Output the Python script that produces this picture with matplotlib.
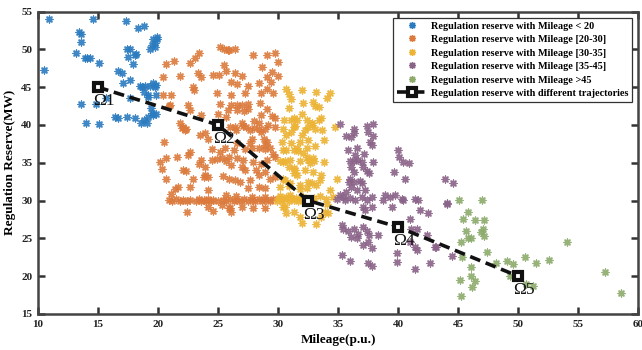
import numpy as np
import matplotlib
matplotlib.use('Agg')
import matplotlib.pyplot as plt
from matplotlib.lines import Line2D

# points, (mileage, reserve)
blue = [(10.9,54.0),(14.6,54.0),(17.3,53.8),(18.3,52.8),(18.8,53.1),(13.4,52.3),(13.6,52.0),(13.6,51.0),
        (19.9,51.4),(19.75,50.8),(19.6,51.4),(19.9,51.65),(19.5,50.6),(19.75,50.3),(17.4,50.1),(17.7,50.1),
        (19.3,50.0),(13.2,49.5),(18.2,49.4),(18.1,49.2),(17.5,49.0),(13.9,48.9),(14.1,48.8),(14.3,48.9),
        (15.1,48.2),(17.9,48.1),(10.5,47.3),(16.7,47.2),(17.0,46.9),(17.1,45.6),(17.7,45.9),(18.5,45.2),
        (18.9,45.2),(19.3,45.1),(19.8,45.3),(18.7,45.0),(19.6,45.5),(19.75,45.0),(18.8,44.4),(19.2,43.7),
        (15.7,43.6),(19.2,43.9),(19.8,43.9),(17.7,43.5),(13.6,42.8),(14.8,42.8),(19.4,42.2),(19.5,41.6),
        (19.6,41.3),(19.8,41.5),(19.2,41.1),(18.8,40.6),(16.4,41.0),(16.7,40.9),(17.4,41.1),(18.1,40.9),
        (14.0,40.2),(15.1,40.1),(18.6,40.3),(19.1,40.3)]

orange = [(25.2,50.25),(25.5,50.1),(25.8,49.9),(23.4,49.5),(23.1,48.8),(22.7,48.2),(21.3,48.4),(20.7,48.0),
          (25.5,47.9),(25.7,47.2),(23.3,46.9),(23.6,46.3),(24.6,46.6),(25.1,46.6),(21.8,46.5),(20.4,46.4),
          (22.9,45.0),(23.0,44.6),(24.9,44.2),(20.4,43.9),(21.1,43.9),(25.2,42.75),(21.0,42.6),(22.5,42.6),
          (22.7,42.0),(23.6,41.3),(25.0,41.5),(25.8,42.0),(21.8,40.2),(22.1,39.7),(22.3,39.5),(20.9,42.5),
          (25.9,49.9),(26.4,50.1),(27.9,49.2),(29.1,49.2),(29.75,49.5),(30.0,48.3),(28.7,47.7),(29.5,47.0),
          (30.0,46.5),(26.4,46.9),(27.0,46.5),(29.1,46.3),(29.4,45.7),(26.1,45.7),(26.6,45.4),(27.5,45.1),
          (28.4,45.6),(29.1,44.8),(27.25,44.25),(28.6,44.25),(29.6,44.25),(26.1,43.9),(28.5,42.9),(26.1,42.7),
          (26.6,42.6),(27.0,42.7),(27.5,42.8),(26.6,42.0),(27.2,41.9),(27.5,42.1),(29.1,42.05),(28.6,41.3),
          (29.5,41.2),(29.75,40.9),(25.7,41.1),(28.0,40.5),(27.0,40.2),(27.1,39.8),(26.4,39.75),(28.4,40.2),
          (29.2,40.0),(29.75,39.7),(28.4,39.5),(28.9,39.4),
          (20.5,37.7),(22.0,39.6),(22.25,39.3),(23.5,38.7),(23.9,38.9),(24.2,38.2),(24.5,36.8),(25.2,36.4),
          (25.6,36.9),(22.7,36.4),(22.5,36.0),(20.2,35.1),(20.7,35.6),(21.6,35.8),(23.6,35.3),(23.4,34.9),
          (23.9,34.5),(24.5,35.3),(24.9,35.5),(25.3,35.6),(25.7,35.2),(20.3,34.2),(22.1,34.0),(22.3,33.9),
          (23.9,33.4),(24.2,33.1),(23.8,33.1),(25.4,33.3),(20.7,32.9),(22.9,32.8),(21.7,31.8),(21.4,31.5),
          (22.7,31.8),(24.2,31.4),(21.1,30.9),(25.7,30.7),(24.2,29.2),(24.6,28.6),(22.4,28.5),(25.3,29.4),
          (25.9,29.0),
          (26.0,39.7),(26.5,39.3),(27.3,39.7),(27.7,39.3),(28.0,39.6),(28.6,39.1),(28.8,38.2),(29.1,37.8),
          (28.9,37.3),(27.8,38.2),(27.7,37.55),(26.6,37.55),(26.3,36.7),(27.25,36.8),(27.8,36.9),(28.4,37.0),
          (28.9,36.8),(29.3,37.0),(29.6,36.2),(29.75,35.8),(25.9,35.8),(26.6,35.6),(27.1,35.3),(27.9,35.1),
          (28.6,34.9),(29.1,35.3),(26.1,34.7),(27.0,34.5),(27.25,34.0),(28.2,34.0),(28.9,33.8),(28.4,33.4),
          (29.75,33.1),(29.3,32.9),(25.9,32.9),(26.4,32.7),(26.8,32.5),(27.7,32.7),(28.4,31.8),(27.5,31.6),
          (28.9,31.7),(27.0,29.2),(27.9,29.0),(28.9,29.0),(26.0,29.0),(26.1,28.5),
          (20.9,30.1),(21.2,30.0),(21.5,30.2),(21.8,30.0),(22.1,30.1),(22.4,29.9),(22.7,30.1),(23.2,30.0),
          (23.4,30.2),(23.6,30.0),(23.8,30.1),(24.0,30.0),(24.2,30.2),(24.4,30.0),(24.6,30.1),(25.0,30.0),
          (25.4,30.1),(25.7,30.0),(26.0,30.2),(26.3,30.0),(26.6,30.1),(26.9,30.0),(27.2,30.2),(27.5,30.0),
          (27.8,30.1),(28.1,30.0),(28.4,30.2),(28.7,30.0),(29.0,30.1),(29.3,30.0),(29.6,30.2),(26.5,30.6),
          (27.8,30.5),(28.9,30.5)]

yellow = [(30.7,44.8),(30.9,44.1),(31.1,43.4),(32.0,44.6),(32.1,42.9),(30.9,42.2),(32.0,41.5),(30.5,40.6),
          (31.1,40.6),(31.6,40.6),(32.4,40.6),(31.4,39.8),(33.2,44.4),(32.9,43.1),(33.1,42.5),(33.4,42.4),
          (34.1,43.6),(34.3,44.2),(31.3,40.9),(32.8,40.3),(33.4,40.7),(33.6,40.9),(32.25,39.3),(32.5,39.75),
          (32.8,40.0),(33.1,39.5),(33.7,39.3),(31.1,39.1),(31.8,37.8),(33.8,38.0),(34.75,39.75),(33.1,37.2),
          (30.4,36.7),(31.3,36.7),(31.7,36.5),(32.1,36.3),(32.4,35.8),(32.9,35.6),(33.0,35.2),(32.7,35.0),
          (30.4,35.1),(31.0,35.3),(30.9,34.5),(31.4,34.0),(33.8,35.1),(32.9,33.8),(33.6,33.4),(33.5,32.7),
          (33.2,32.0),(34.9,32.9),(30.6,32.7),(31.0,32.3),(31.3,33.6),(31.8,32.0),(32.4,31.6),(32.8,32.3),
          (34.3,31.4),(34.6,30.5),(34.1,29.6),(33.9,28.5),(30.4,29.2),(31.3,28.5),(31.8,27.8),(33.6,27.8),
          (34.2,28.3),(30.4,39.5),(31.3,39.75),(30.7,38.65),(32.0,38.65),(30.3,37.8),(31.1,37.55),(32.5,38.0),
          (30.7,36.7),(31.6,36.9),(32.4,36.9),(30.2,35.2),(30.6,35.2),(31.8,35.2),(32.5,35.3),(31.3,34.25),
          (32.25,34.0),(31.6,33.4),(30.4,32.9),(30.9,31.9),(32.5,32.5),(30.2,31.8),(31.8,31.5),(30.6,29.2),
          (30.7,28.4),(32.0,27.0),(33.2,26.9),
          (29.9,30.0),(30.1,30.3),(30.3,30.0),(30.5,30.2),(30.7,30.5),(30.9,30.0),(31.1,30.3),(31.3,30.1),
          (31.5,30.4),(31.7,30.0),(31.9,30.2),(32.1,30.5),(32.3,30.1),(32.5,29.8),(30.2,30.6),(31.0,30.7),
          (33.0,30.3),(33.5,30.6),(34.0,30.2)]

purple = [(35.2,40.1),(36.3,39.5),(36.3,38.9),(35.7,38.5),(36.1,38.4),(37.4,39.8),(37.9,40.1),(37.5,39.1),
          (37.9,38.5),(37.7,37.8),(37.8,37.3),(35.8,36.7),(36.6,36.9),(37.2,36.1),(36.4,36.0),(36.0,35.2),
          (36.3,35.2),(36.7,35.3),(37.0,35.1),(37.9,35.1),(40.0,36.7),(40.1,35.8),(40.4,35.1),(40.9,35.0),
          (36.1,34.5),(36.3,33.8),(37.1,34.5),(37.4,33.9),(37.6,33.6),(39.7,33.8),(40.6,32.9),(36.0,32.9),
          (36.3,32.5),(35.9,32.5),(36.8,32.6),(37.0,32.3),(43.9,32.8),(44.6,32.3),(36.1,31.8),(36.6,31.4),
          (35.7,31.15),(37.25,31.4),(35.2,30.7),(35.4,30.5),(34.9,30.2),(35.6,30.1),(36.0,30.4),(36.4,30.1),
          (37.0,30.5),(37.4,30.1),(37.8,30.5),(38.9,30.7),(39.3,30.5),(38.75,30.1),(39.75,30.7),(40.3,30.15),
          (40.4,30.05),(41.4,30.15),(41.7,30.05),(44.1,29.7),(37.1,29.2),(37.25,28.7),(37.8,29.2),(39.5,29.2),
          (41.8,28.8),(42.5,28.3),(41.0,27.6),(35.3,26.7),(35.4,26.3),(35.8,26.0),(36.3,26.3),(36.7,25.6),
          (36.1,25.2),(36.6,25.0),(37.1,26.5),(37.4,26.0),(37.6,25.4),(38.3,25.4),(37.1,24.1),(37.8,23.7),
          (37.5,24.5),(39.75,26.75),(41.1,26.3),(41.6,26.3),(41.0,24.5),(41.4,23.9),(41.6,23.4),(42.4,25.4),
          (43.2,23.9),(39.9,23.0),(39.9,21.9),(35.3,22.8),(36.0,22.0),(37.5,21.7),(37.8,21.3),(42.7,21.8),
          (41.4,20.9),(44.1,29.6),(44.5,22.6),(43.1,23.9)]

green = [(45.1,30.05),(47.0,30.05),(45.8,28.5),(45.4,27.6),(46.4,27.4),(47.2,27.4),(45.7,26.0),(45.8,25.1),
         (46.1,25.1),(46.9,25.9),(47.1,26.3),(47.2,25.3),(45.25,24.5),(54.1,24.5),(47.4,23.2),(45.3,22.55),
         (48.2,21.8),(49.1,22.0),(49.6,21.6),(50.6,22.55),(51.5,21.8),(52.6,22.1),(46.1,21.15),(46.1,20.0),
         (46.4,19.3),(46.2,18.6),(49.3,20.0),(45.2,19.5),(51.2,18.7),(50.7,19.0),(57.2,20.6),(58.6,17.8),
         (45.25,17.35)]

traj_x = [15, 25, 32.5, 40, 50]
traj_y = [45, 40, 30, 26.5, 20]
traj_names = ['\u03a91', '\u03a92', '\u03a93', '\u03a94', '\u03a95']

labels = ['Regulation reserve with Mileage < 20',
          'Regulation reserve with Mileage [20-30]',
          'Regulation reserve with Mileage [30-35]',
          'Regulation reserve with Mileage [35-45]',
          'Regulation reserve with Mileage >45',
          'Regulation reserve with different trajectories']
colors = ['#2a7bbf', '#db7a3c', '#ecb334', '#8a6389', '#8cab6c']

plt.rcParams['font.family'] = ['Liberation Serif', 'DejaVu Serif']

fig = plt.figure(figsize=(6.42, 3.5), dpi=100)
ax = fig.add_axes([0.059, 0.103, 0.935, 0.864])

star = (8, 2, 0)
handles = []
for pts, c, lab in zip([blue, orange, yellow, purple, green], colors, labels):
    p = np.array(pts)
    ax.scatter(p[:, 0], p[:, 1], marker=star, s=24, color=c, linewidths=1.0, alpha=0.9)
    handles.append(Line2D([], [], ls='none', marker=star, ms=5, color=c, mew=1.0, label=lab))

traj_style = dict(ls=(0, (3, 1.6)), color='#111111', lw=2.6, marker='s', ms=6,
                  mfc='white', mec='#111111', mew=3.0)
ax.plot(traj_x, traj_y, **traj_style)
for x, y, t in zip(traj_x, traj_y, traj_names):
    ax.text(x - 0.4, y - 0.8, t, fontsize=12.5, va='top', ha='left', color='#111111')

handles.append(Line2D([], [], label=labels[5], **traj_style))

leg = ax.legend(handles=handles, loc='upper right', prop={'weight': 'bold', 'size': 7.4},
                frameon=True, fancybox=False, framealpha=1, edgecolor='#333333',
                borderaxespad=0.6, handlelength=3.0, labelspacing=0.42, borderpad=0.35,
                handletextpad=0.3)
leg.get_frame().set_linewidth(0.9)

ax.set_xlim(10, 60)
ax.set_ylim(15, 55)
ax.set_xticks(np.arange(10, 61, 5))
ax.set_yticks(np.arange(15, 56, 5))
ax.tick_params(direction='in', length=5, width=1.8, top=True, right=True, labelsize=8,
               colors='#333333', labelcolor='#222222', pad=4)
for lab in ax.get_xticklabels() + ax.get_yticklabels():
    lab.set_fontweight('bold')
for s in ax.spines.values():
    s.set_linewidth(1.8)
    s.set_color('#444444')

ax.set_xlabel('Mileage(p.u.)', fontsize=9.5, fontweight='bold', labelpad=4)
ax.set_ylabel('Regulation Reserve(MW)', fontsize=9.5, fontweight='bold', labelpad=4)

fig.savefig('out.png', dpi=100)
